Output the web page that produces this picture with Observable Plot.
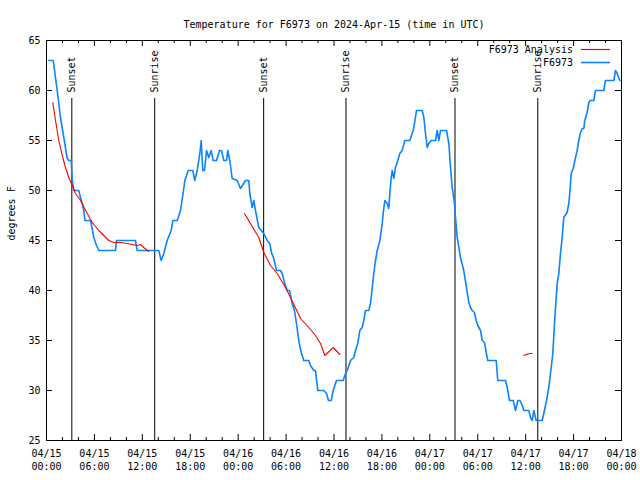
<!DOCTYPE html>
<html><head><meta charset="utf-8">
<script src="https://cdn.jsdelivr.net/npm/d3@7"></script>
<script src="https://cdn.jsdelivr.net/npm/@observablehq/plot@0.6"></script>
<style>body{margin:0;background:#fff;} svg{display:block}</style>
</head><body><div id="chart"></div>
<script>
const START = Date.parse("2024-04-15T00:00:00Z");
const TITLE = "Temperature for F6973 on 2024-Apr-15 (time in UTC)";
const Y_LABEL = "degrees F";
const seriesNames = ["F6973 Analysis", "F6973"];
const seriesColors = ["#ff0000", "#0a84ff"];

// Observations (hours since 04/15 00:00 UTC, degrees F)
const obsHours = [0.29,0.84,1.34,1.75,2.17,2.59,2.79,3.09,3.22,3.42,4.04,4.26,4.47,4.67,4.8,5.51,5.72,5.92,6.26,6.55,8.64,8.77,11.14,11.36,14.06,14.36,14.69,15.11,15.61,15.82,16.37,16.78,17.12,17.32,17.74,18.32,18.57,18.87,19.2,19.37,19.57,19.78,20.04,20.32,20.62,20.87,21.29,21.66,21.91,22.2,22.54,22.7,22.95,23.25,23.88,24.29,24.92,25.33,25.46,25.76,25.96,26.17,26.58,26.88,27.21,27.64,27.96,28.17,28.46,28.8,29.3,29.51,29.8,30.14,30.43,30.77,31.05,31.3,31.59,31.89,32.22,32.85,33.06,33.47,33.68,33.97,34.72,35.06,35.31,35.65,35.9,36.31,37.15,37.44,37.65,38.07,38.48,38.69,38.98,39.23,39.53,39.73,39.94,40.36,40.57,40.78,40.98,41.2,41.41,41.74,42.04,42.16,42.36,42.66,42.86,42.99,43.16,43.29,43.49,43.7,43.99,44.24,44.54,44.87,45.49,45.92,46.08,46.33,47.05,47.25,47.46,47.67,47.87,48.17,48.71,48.92,49.12,49.34,50.09,50.38,50.59,50.8,51.09,51.21,51.43,51.84,52.25,52.59,52.88,53.09,53.3,53.59,53.8,54.0,54.35,54.56,54.85,55.06,55.26,56.31,56.51,57.48,57.69,57.98,58.44,58.73,59.02,59.29,59.57,59.77,60.39,60.61,60.82,61.02,61.32,62.07,62.27,62.61,62.9,63.2,63.4,63.61,63.74,63.95,64.15,64.36,64.57,64.77,65.19,65.4,65.52,65.7,65.95,66.24,66.45,66.65,66.87,67.08,67.28,67.4,67.7,67.91,68.03,68.53,68.74,69.78,69.99,71.04,71.25,71.46,71.79];
const obsTemps = [63,63,60,57.3,55.3,53.2,53,53,51,50,50,49.3,48.7,48,47,47,46.2,45.3,44.5,44,44,45,45,44,44,43,43.7,45,46,47,47,48,49.8,51,52,52,51,52,53.7,55,52,52,54,53.3,54,53,53,54,54,53,53,54,53,51.2,51,50.2,51,51,49.7,48.3,49,48,46.3,46,45.7,45,44.7,43.8,43.2,42,42,41.7,40.8,40,40,38.7,38,36.7,35,33.8,33,33,32.5,32,32,30,30,29.7,29,29,30,31,31,31.7,32,33,33.3,34,34.7,36,36.3,37,38,38,38.7,40.2,41.7,43,44,45,46.7,47.7,49,48.7,48.2,49.7,51.3,52,51.2,52.3,53,53.7,54,55,55,56,56.7,58,58,57.3,55.7,54.3,54.7,55,55,56,55,56,56,54.7,52.3,50.3,48.7,47.3,45.3,43.3,42,40.3,38.8,38.3,38,37.8,37,36.5,36,35,34.8,33.8,33,33,31,31,30.3,29,29,28,29,29,28.5,28,28,27.3,27,28,27,27,27.7,29,30.3,32.3,33.7,36.7,38.3,40.7,41.7,43.7,45.3,47.3,47.8,48.7,49.7,51.7,52.2,53.3,54,55,55.8,56.2,56.2,57,57.8,58.8,59,59,60,60,61,61,62,61.7,61];

// Analysis (null separates the three pieces)
const anaHours = [0.79,1.13,1.54,1.97,2.38,2.79,3.22,3.63,4.26,5.1,5.72,6.55,7.8,8.43,9.27,10.1,11.36,11.77,12.18,12.81,null,24.79,26.58,27.21,28.05,28.89,29.93,30.55,31.81,32.85,33.68,34.31,34.85,35.9,36.73,null,59.77,60.1,60.52,60.82];
const anaTemps = [58.8,57,55,53.5,52.3,51.3,50.5,49.7,49,47.7,46.8,46,45,44.8,44.8,44.7,44.5,44.6,44.3,43.9,null,47.7,45.3,43.8,42.5,41.7,40.3,39.3,37.2,36.3,35.5,34.7,33.5,34.3,33.6,null,33.5,33.6,33.7,33.7];

const sunHours = [3.17, 13.55, 27.19, 37.5, 51.15, 61.52];
const sunLabels = ["Sunset", "Sunrise", "Sunset", "Sunrise", "Sunset", "Sunrise"];
const SUN_LINE_TOP = 59.2;
const SUN_LABEL_BASE = 59.8;

const majorTickHours = [0,6,12,18,24,30,36,42,48,54,60,66,72];
const xTickLabels = ["04/15\n00:00","04/15\n06:00","04/15\n12:00","04/15\n18:00","04/16\n00:00","04/16\n06:00","04/16\n12:00","04/16\n18:00","04/17\n00:00","04/17\n06:00","04/17\n12:00","04/17\n18:00","04/18\n00:00"];
const minorTickHours = [2,4,8,10,14,16,20,22,26,28,32,34,38,40,44,46,50,52,56,58,62,64,68,70];
const yTicks = [25,30,35,40,45,50,55,60,65];

const toDate = h => h == null ? null : new Date(START + h * 3600e3);
const obs = obsHours.map((h, i) => ({t: toDate(h), v: obsTemps[i]}));
const ana = anaHours.map((h, i) => ({t: toDate(h), v: anaTemps[i]}));
const sun = sunHours.map((h, i) => ({t: toDate(h), label: sunLabels[i]}));
const majors = majorTickHours.map((h, i) => ({t: toDate(h), label: xTickLabels[i]}));
const minors = minorTickHours.map(toDate);

const W = 640, H = 480, ML = 46, MR = 19, MT = 40, MB = 40;
const PW = W - ML - MR, PH = H - MT - MB;
const FONT = "DejaVu Sans Mono, monospace";

function legendMark() {
  const g = d3.create("svg:g").attr("font-family", FONT).attr("font-size", 10).attr("fill", "black");
  seriesNames.forEach((name, i) => {
    const y = MT + 9.5 + i * 13;
    g.append("text").attr("x", W - MR - 48).attr("y", y).attr("dy", "0.32em").attr("text-anchor", "end").text(name);
    g.append("line").attr("x1", W - MR - 40).attr("x2", W - MR - 11).attr("y1", y).attr("y2", y)
      .attr("stroke", seriesColors[i]).attr("stroke-width", i === 0 ? 1.2 : 1.6);
  });
  return g.node();
}

const chart = Plot.plot({
  width: W, height: H,
  marginLeft: ML, marginRight: MR, marginTop: MT, marginBottom: MB,
  style: {fontFamily: FONT, fontSize: "10px", background: "white", color: "black"},
  x: {type: "utc", domain: [toDate(0), toDate(72)], axis: null},
  y: {domain: [25, 65], axis: null},
  marks: [
    Plot.ruleX(sun, {x: "t", y1: 25, y2: SUN_LINE_TOP, stroke: "black", strokeWidth: 1}),
    Plot.text(sun, {x: "t", y: SUN_LABEL_BASE, text: "label", rotate: -90, textAnchor: "start", fill: "black", fontSize: 10}),
    Plot.line(obs, {x: "t", y: "v", stroke: seriesColors[1], strokeWidth: 1.6, curve: "linear"}),
    Plot.line(ana, {x: "t", y: "v", stroke: seriesColors[0], strokeWidth: 1.1, curve: "linear"}),
    Plot.tickX(majors, {x: "t", insetTop: PH - 6, stroke: "black"}),
    Plot.tickX(majors, {x: "t", insetBottom: PH - 6, stroke: "black"}),
    Plot.tickX(minors, {x: d => d, insetTop: PH - 3, stroke: "black"}),
    Plot.tickX(minors, {x: d => d, insetBottom: PH - 3, stroke: "black"}),
    Plot.tickY(yTicks, {y: d => d, insetRight: PW - 6, stroke: "black"}),
    Plot.tickY(yTicks, {y: d => d, insetLeft: PW - 6, stroke: "black"}),
    Plot.text(majors, {x: "t", text: "label", frameAnchor: "bottom", lineAnchor: "top", dy: 7, lineHeight: 1.3, fill: "black"}),
    Plot.text(yTicks, {y: d => d, text: d => String(d), frameAnchor: "left", textAnchor: "end", dx: -6, fill: "black"}),
    Plot.text([TITLE], {text: d => d, frameAnchor: "top", dy: -20, fill: "black"}),
    Plot.text([Y_LABEL], {text: d => d, frameAnchor: "left", rotate: -90, dx: -35, fill: "black"}),
    Plot.frame({stroke: "black"}),
    legendMark
  ]
});
document.getElementById("chart").append(chart);
</script>
</body></html>
